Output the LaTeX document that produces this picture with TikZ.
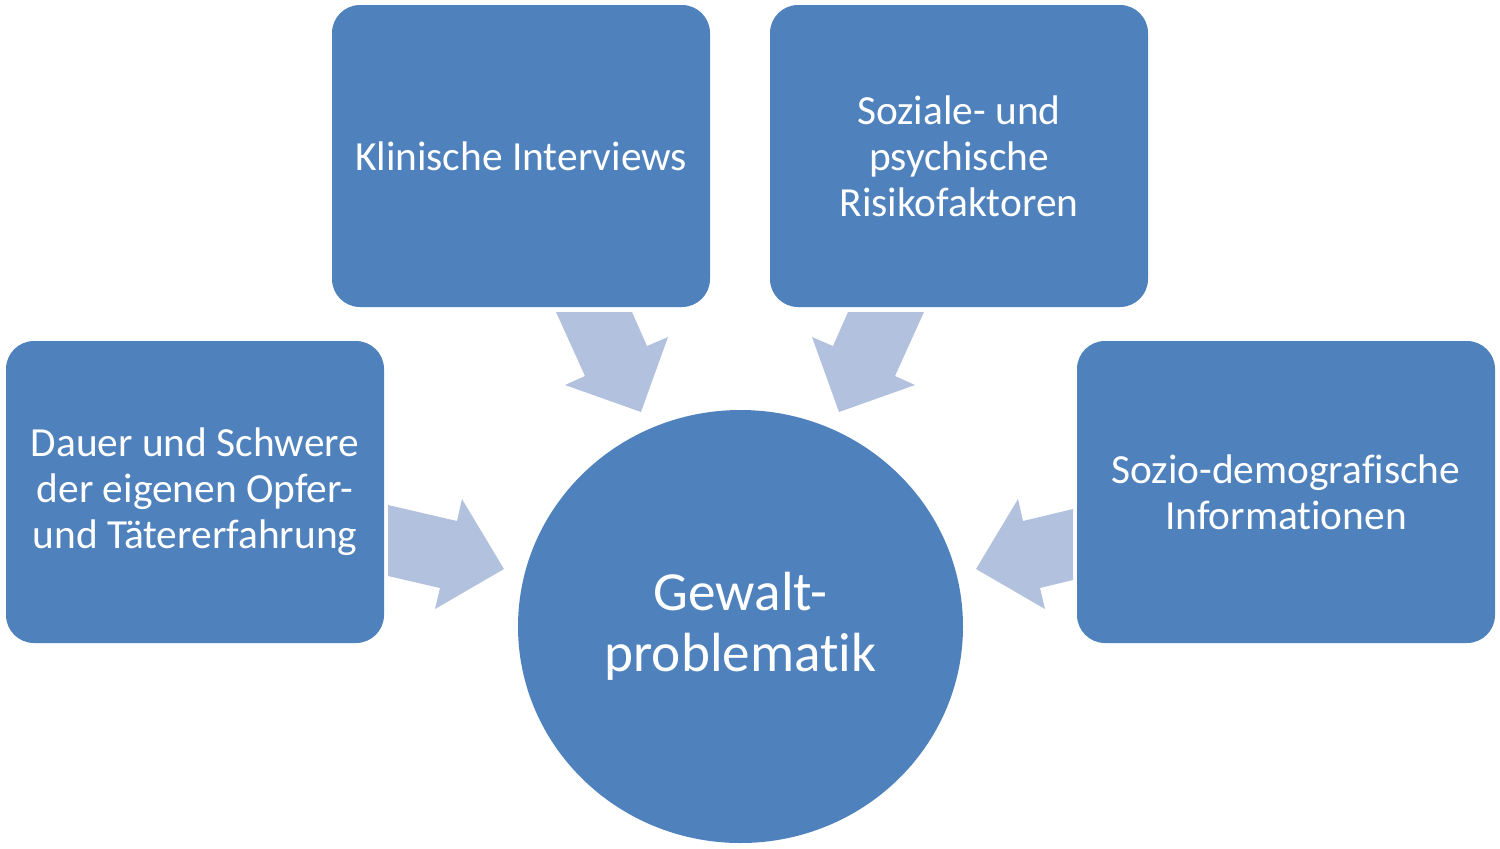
\documentclass[tikz,border=0pt]{standalone}
\usepackage{fontspec}
\setmainfont{Carlito}[Ligatures=NoCommon]
\usetikzlibrary{shapes.geometric}
\definecolor{boxblue}{HTML}{4F81BD}
\definecolor{flowblue}{HTML}{B2C2DE}
\tikzset{
        box/.style={rectangle, rounded corners=14pt, fill=boxblue, text=white, align=center,
            inner sep=0pt, minimum width=189pt, minimum height=151pt,
            font=\fontsize{20.7}{23}\selectfont},
        centre/.style={ellipse, fill=boxblue, text=white, align=center, inner sep=0pt,
            minimum width=222.5pt, minimum height=216.5pt, font=\fontsize{27.6}{30.5}\selectfont},
        flow/.style={fill=flowblue}
    }

\begin{document}
\begin{tikzpicture}[x=0.5pt, y=-0.5pt]
            \useasboundingbox (0,0) rectangle (1500,848);

            \node [box] (klinik) at (521, 156) {Klinische Interviews};
            \node [box] (sozial) at (959, 156) {Soziale- und\\psychische\\Risikofaktoren};
            \node [box] (dauer) at (195, 492) {Dauer und Schwere\\der eigenen Opfer-\\und Tätererfahrung};
            \node [box, minimum width=209pt] (sozio) at (1286, 492) {Sozio-demografische\\Informationen};
            \node [centre] (gewalt) at (740.5, 626.5) {Gewalt-\\problematik};

            % block arrows towards the centre
            \fill [flow] (556,312) -- (632,312) -- (647,346) -- (668,337) -- (641,412) -- (565,385) -- (585,376) -- cycle;
            \fill [flow] (924,312) -- (848,312) -- (833,346) -- (812,337) -- (839,412) -- (915,385) -- (895,376) -- cycle;
            \fill [flow] (388,505) -- (457,521) -- (462,499) -- (504,569) -- (435,609) -- (440,588) -- (388,576) -- cycle;
            \fill [flow] (1073,509) -- (1023,521) -- (1018,499) -- (976,569) -- (1045,609) -- (1040,588) -- (1073,580) -- cycle;
        \end{tikzpicture}
\end{document}
